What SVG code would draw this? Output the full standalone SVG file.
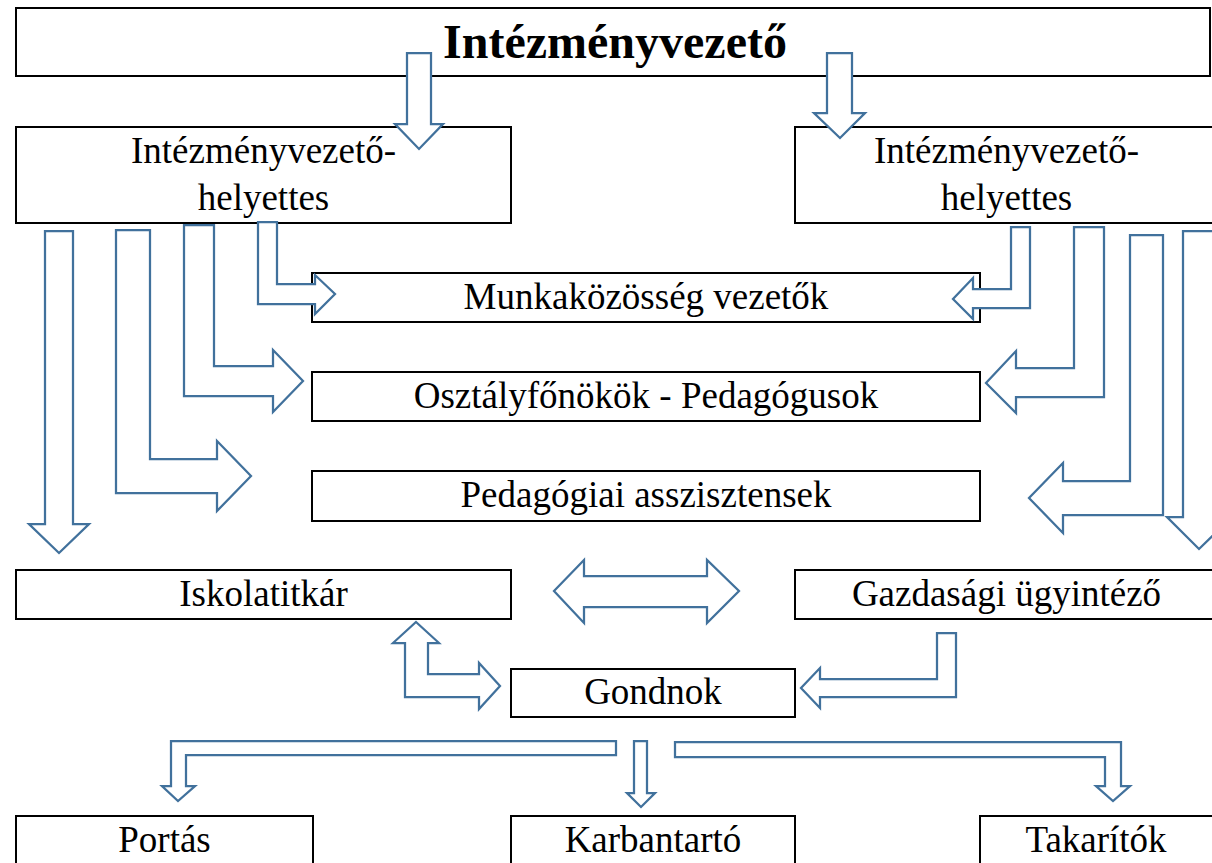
<svg xmlns="http://www.w3.org/2000/svg" width="1212" height="863" viewBox="0 0 1212 863">
<style>
.box{fill:#fff;stroke:#000;stroke-width:2}
.t{font-family:"Liberation Serif","Times New Roman",serif;font-size:37px;fill:#000;text-anchor:middle}
.tb{font-family:"Liberation Serif","Times New Roman",serif;font-size:48px;font-weight:bold;fill:#000;text-anchor:middle}
.ar{fill:#fff;stroke:#41719C;stroke-width:2.25;stroke-linejoin:miter}
</style>
<rect width="1212" height="863" fill="#fff"/>
<g id="n-vezeto"><rect class="box" x="16" y="8" width="1194" height="68"/><text class="tb" x="615" y="58">Intézményvezető</text></g>
<g id="n-helyettes1"><rect class="box" x="16" y="127" width="495" height="96"/><text class="t" x="263.5" y="163">Intézményvezető-</text><text class="t" x="263.5" y="210">helyettes</text></g>
<g id="n-helyettes2"><rect class="box" x="795" y="127" width="425" height="96"/><text class="t" x="1006.5" y="163">Intézményvezető-</text><text class="t" x="1006.5" y="210">helyettes</text></g>
<g id="n-munka"><rect class="box" x="312" y="273" width="668" height="49"/><text class="t" x="646" y="309">Munkaközösség vezetők</text></g>
<g id="n-osztaly"><rect class="box" x="312" y="372" width="668" height="49"/><text class="t" x="646" y="408">Osztályfőnökök - Pedagógusok</text></g>
<g id="n-asszisztens"><rect class="box" x="312" y="471" width="668" height="50"/><text class="t" x="646" y="507">Pedagógiai asszisztensek</text></g>
<g id="n-iskolatitkar"><rect class="box" x="16" y="570" width="495" height="49"/><text class="t" x="263.5" y="606">Iskolatitkár</text></g>
<g id="n-gazdasagi"><rect class="box" x="795" y="570" width="425" height="49"/><text class="t" x="1006.5" y="606">Gazdasági ügyintéző</text></g>
<g id="n-gondnok"><rect class="box" x="511" y="669" width="284" height="48"/><text class="t" x="653" y="704">Gondnok</text></g>
<g id="n-portas"><rect class="box" x="16" y="816" width="297" height="60"/><text class="t" x="164.5" y="852">Portás</text></g>
<g id="n-karbantarto"><rect class="box" x="511" y="816" width="284" height="60"/><text class="t" x="653" y="852">Karbantartó</text></g>
<g id="n-takaritok"><rect class="box" x="980" y="816" width="240" height="60"/><text class="t" x="1096" y="852">Takarítók</text></g>
<g id="connectors">
<polygon class="ar" points="407,53 431,53 431,124 443,124 419,149 395,124 407,124"/>
<polygon class="ar" points="827,53 852,53 852,113 865,113 840,138 814,113 827,113"/>
<polygon class="ar" points="45,231 73,231 73,524 89,524 59,553 29,524 45,524"/>
<polygon class="ar" points="116,230 150,230 150,459 217,459 217,441 251,476 217,511 217,493 116,493"/>
<polygon class="ar" points="184,225 214,225 214,366 273,366 273,350 303,381 273,412 273,396 184,396"/>
<polygon class="ar" points="258,222 277,222 277,284 315,284 315,275 335,294 315,314 315,304 258,304"/>
<polygon class="ar" points="1030,227 1011,227 1011,289 973,289 973,278 953,299 973,319 973,308 1030,308"/>
<polygon class="ar" points="1104,227 1074,227 1074,368 1016,368 1016,351 986,383 1016,413 1016,397 1104,397"/>
<polygon class="ar" points="1163,235 1130,235 1130,481 1063,481 1063,463 1029,498 1063,533 1063,515 1163,515"/>
<polygon class="ar" points="1183,231 1215,231 1215,517 1232,517 1199,549 1167,517 1183,517"/>
<polygon class="ar" points="554,591 584,560 584,576 707,576 707,560 739,591 707,623 707,607 584,607 584,623"/>
<polygon class="ar" points="416,622 439,643 428,643 428,674 479,674 479,663 500,686 479,709 479,697 405,697 405,643 393,643"/>
<polygon class="ar" points="956,633 937,633 937,679 820,679 820,668 801,688 820,708 820,697 956,697"/>
<polygon class="ar" points="616,741 171,741 171,786 162,786 178,801 195,786 186,786 186,755 616,755"/>
<polygon class="ar" points="634,741 647,741 647,793 655,793 641,807 627,793 634,793"/>
<polygon class="ar" points="675,742 1121,742 1121,786 1130,786 1113,801 1096,786 1105,786 1105,757 675,757"/>
</g>
</svg>
